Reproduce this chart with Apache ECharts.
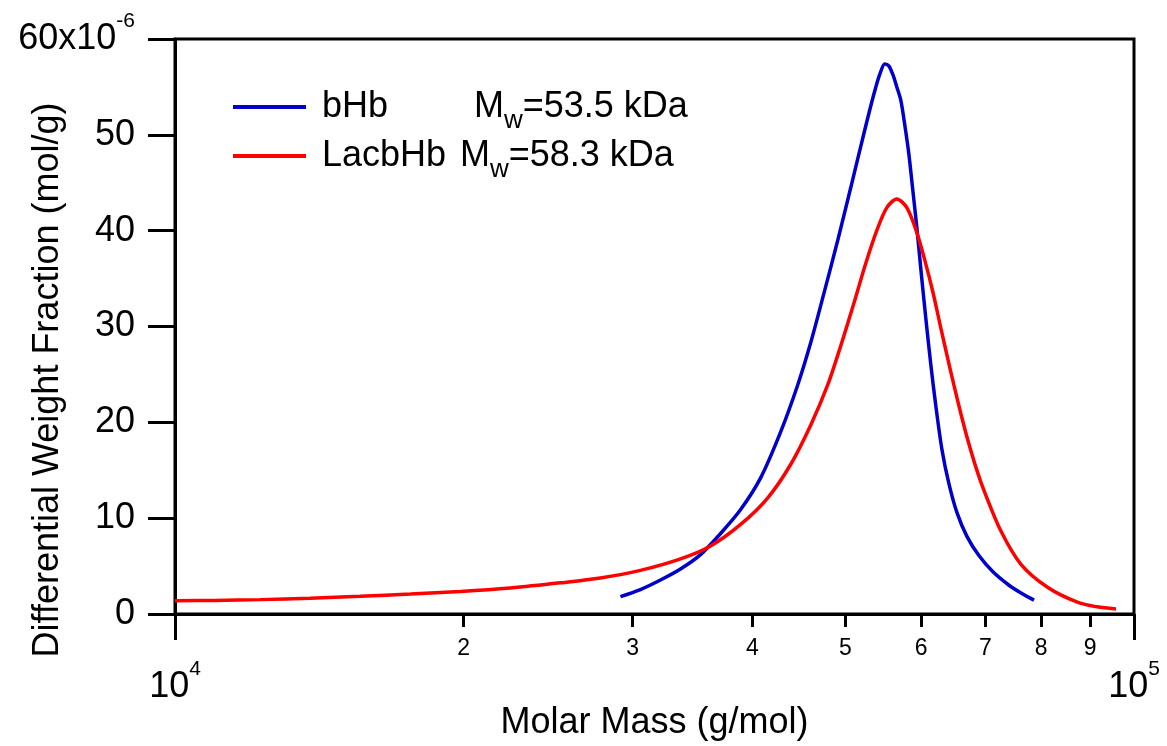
<!DOCTYPE html>
<html>
<head>
<meta charset="utf-8">
<script src="https://cdn.jsdelivr.net/npm/echarts@6/dist/echarts.min.js"></script>
<style>
  html, body { margin: 0; padding: 0; background: #fff; }
  #main { width: 1167px; height: 746px; }
</style>
</head>
<body>
<div id="main"></div>
<script>
// molar mass (g/mol) and differential weight fraction (x10^-6 mol/g)
var bhbMass = [29140, 30570, 32080, 33660, 35320, 37060, 38890, 40800, 42810, 44600,
  46010, 47480, 49100, 50660, 51890, 52900, 53670, 54310, 54970, 55500,
  56040, 56580, 57130, 57680, 58240, 58800, 59370, 59940, 60670, 61400,
  62140, 63050, 64120, 65360, 66950, 68910, 71270, 74070, 76230, 78660];
var bhbFrac = [1.81, 2.55, 3.55, 4.7, 6.2, 8.4, 10.9, 14.2, 19.0, 23.9,
  28.3, 33.4, 39.0, 44.5, 48.8, 52.2, 54.6, 56.3, 57.4, 57.2,
  56.3, 55.0, 53.6, 51.0, 48.0, 44.2, 40.3, 36.0, 30.8, 26.0,
  21.7, 17.2, 13.6, 10.6, 8.1, 6.1, 4.4, 3.0, 2.2, 1.45];

var lacMass = [10000, 11010, 12270, 13830, 15600, 17600, 19840, 22370, 25230, 27770,
  30570, 33660, 36180, 38890, 41490, 43850, 46010, 47930, 49460, 51030,
  52520, 53920, 55240, 56580, 57960, 59370, 60520, 61700, 62900, 63960,
  64890, 65990, 67120, 68420, 69750, 72650, 76230, 81320, 87410, 91490, 95770];
var lacFrac = [1.39, 1.42, 1.50, 1.65, 1.85, 2.08, 2.35, 2.72, 3.25, 3.75,
  4.55, 5.75, 7.1, 9.35, 12.1, 15.6, 19.7, 23.9, 28.0, 32.4,
  36.6, 40.0, 42.4, 43.3, 42.4, 39.8, 36.9, 33.6, 29.8, 26.6,
  23.9, 20.9, 18.1, 15.3, 12.9, 8.66, 5.19, 2.77, 1.21, 0.75, 0.52];

var seriesNames = ['bHb', 'LacbHb'];
var mwLabels = ['53.5 kDa', '58.3 kDa'];
var minorTicks = [2, 3, 4, 5, 6, 7, 8, 9];   // x 10^4
var decades = [4, 5];                          // 10^4, 10^5

var font = 'Liberation Sans';
var chart = echarts.init(document.getElementById('main'));

function pairs(xs, ys) {
  return xs.map(function (x, i) { return [x, ys[i]]; });
}
function legendFmt(idx) {
  return function (name) {
    return '{g|}{n|' + name + '}{m|M}{w|w}{m|=' + mwLabels[idx] + '}';
  };
}
function legendRich(nameWidth) {
  return {
    g: { width: 11 },
    n: { fontSize: 36, width: nameWidth, lineHeight: 54, color: '#000', fontFamily: font },
    m: { fontSize: 36, lineHeight: 54, color: '#000', fontFamily: font },
    w: { fontSize: 26, lineHeight: 26, verticalAlign: 'bottom', color: '#000', fontFamily: font }
  };
}

var supRich = {
  n: { fontSize: 36, lineHeight: 56, color: '#000', fontFamily: font },
  s: { fontSize: 21, lineHeight: 21, verticalAlign: 'top', color: '#000', fontFamily: font }
};

var option = {
  animation: false,
  backgroundColor: '#fff',
  grid: {
    left: 175, right: 33, top: 39, bottom: 129,
    show: true, borderColor: '#000', borderWidth: 3, backgroundColor: 'transparent'
  },
  legend: [
    {
      data: [seriesNames[0]], left: 233, top: 89, padding: 0,
      icon: 'rect', itemWidth: 73, itemHeight: 4, selectedMode: false,
      formatter: legendFmt(0), textStyle: { rich: legendRich(152) }
    },
    {
      data: [seriesNames[1]], left: 233, top: 138, padding: 0,
      icon: 'rect', itemWidth: 73, itemHeight: 4, selectedMode: false,
      formatter: legendFmt(1), textStyle: { rich: legendRich(138) }
    }
  ],
  xAxis: [
    {
      type: 'log', logBase: 10, min: 10000, max: 100000,
      axisLine: { lineStyle: { color: '#000', width: 3 } },
      axisTick: { show: false },
      axisLabel: { show: false },
      splitLine: { show: false },
      name: 'Molar Mass (g/mol)', nameLocation: 'middle', nameGap: 91,
      nameTextStyle: { fontSize: 36, color: '#000', fontFamily: font }
    },
    {
      // minor decade ticks 2..9
      type: 'value', min: 4, max: 5, position: 'bottom',
      axisLine: { show: false },
      axisTick: {
        length: 13, lineStyle: { color: '#000', width: 3 },
        customValues: minorTicks.map(function (m) { return 4 + Math.log10(m); })
      },
      axisLabel: {
        fontSize: 23, color: '#000', fontFamily: font, margin: 23,
        customValues: minorTicks.map(function (m) { return 4 + Math.log10(m); }),
        formatter: function (v) { return String(Math.round(Math.pow(10, v - 4))); }
      },
      splitLine: { show: false }
    },
    {
      // decade ticks 10^4, 10^5
      type: 'value', min: 4, max: 5, position: 'bottom',
      axisLine: { show: false },
      axisTick: { length: 26, lineStyle: { color: '#000', width: 3 }, customValues: decades },
      axisLabel: {
        margin: 45, customValues: decades,
        formatter: function (v) { return '{n|10}{s|' + v + '}'; },
        rich: supRich
      },
      splitLine: { show: false }
    }
  ],
  yAxis: {
    type: 'value', min: 0, max: 60, interval: 10,
    axisLine: { show: true, lineStyle: { color: '#000', width: 3 } },
    axisTick: { show: true, length: 27, lineStyle: { color: '#000', width: 3 } },
    axisLabel: {
      margin: 40,
      formatter: function (v) {
        return v === 60 ? '{n|60x10}{s|-6}' : '{n|' + v + '}';
      },
      rich: supRich
    },
    splitLine: { show: false }
  },
  graphic: [
    {
      type: 'text', x: 48, y: 380, rotation: Math.PI / 2,
      style: {
        text: 'Differential Weight Fraction (mol/g)',
        fontSize: 36, fontFamily: font, fill: '#000',
        align: 'center', verticalAlign: 'middle'
      }
    }
  ],
  series: [
    {
      name: seriesNames[0], type: 'line', xAxisIndex: 0,
      data: pairs(bhbMass, bhbFrac), showSymbol: false, smooth: 0.3,
      lineStyle: { color: '#0000cc', width: 3.5 }, itemStyle: { color: '#0000cc' }
    },
    {
      name: seriesNames[1], type: 'line', xAxisIndex: 0,
      data: pairs(lacMass, lacFrac), showSymbol: false, smooth: 0.3,
      lineStyle: { color: '#ff0000', width: 3.5 }, itemStyle: { color: '#ff0000' }
    }
  ]
};

chart.setOption(option);
</script>
</body>
</html>
